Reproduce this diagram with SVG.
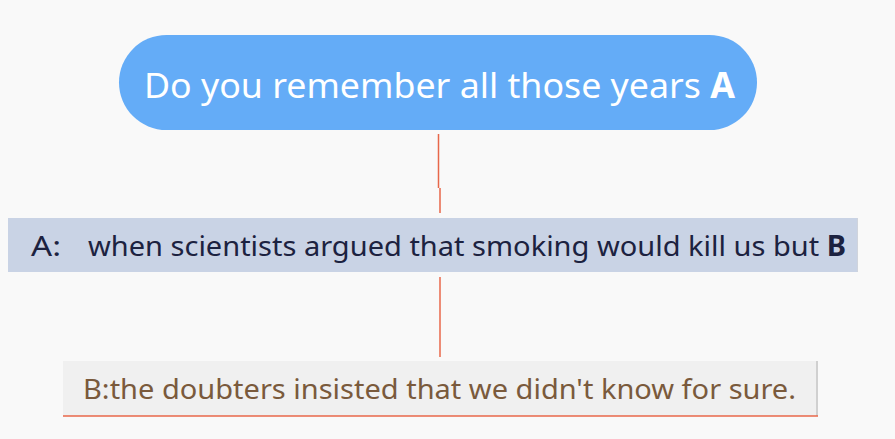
<svg xmlns="http://www.w3.org/2000/svg" width="895" height="439" viewBox="0 0 895 439">
<style>
.t{font-family:"Noto Sans","Open Sans","DejaVu Sans",sans-serif;}
.c{stroke:#e8674a;stroke-width:1.5;fill:none;}
</style>
<rect width="895" height="439" fill="#f9f9f9"/>
<g id="connectors">
<path class="c" d="M438.5 134 V188 M440 188 V213"/>
<path class="c" d="M440 277 V357"/>
</g>
<g id="root">
<rect x="119" y="35" width="638" height="95" rx="47.5" fill="#64acf7"/>
<text class="t" x="144" y="98" font-size="35" fill="#ffffff" textLength="591" lengthAdjust="spacingAndGlyphs">Do you remember all those years <tspan font-weight="bold">A</tspan></text>
</g>
<g id="nodeA">
<rect x="9" y="218" width="849" height="54" fill="#d0d4dc"/>
<rect x="8" y="218" width="849" height="54" fill="#c9d3e5"/>
<text class="t" x="31" y="256" font-size="28" fill="#1c2240" textLength="30" lengthAdjust="spacingAndGlyphs">A:</text>
<text class="t" x="88" y="256" font-size="28" fill="#1c2240" textLength="758" lengthAdjust="spacingAndGlyphs">when scientists argued that smoking would kill us but <tspan font-weight="bold">B</tspan></text>
</g>
<g id="nodeB">
<rect x="63" y="361" width="755" height="55" fill="#d0d0d0"/>
<rect x="63" y="361" width="753" height="55" fill="#f0f0f0"/>
<line x1="63" y1="416" x2="818" y2="416" stroke="#e8674a" stroke-width="1.5"/>
<text class="t" x="83" y="399" font-size="28" fill="#7a5a3c" textLength="713" lengthAdjust="spacingAndGlyphs">B:the doubters insisted that we didn't know for sure.</text>
</g>
</svg>
